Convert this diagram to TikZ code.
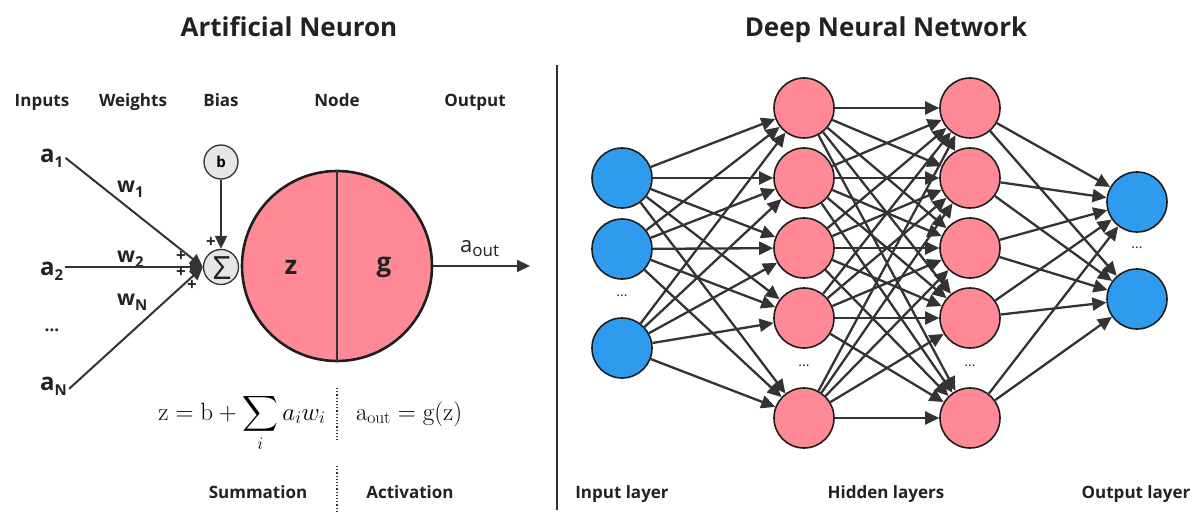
\RequirePackage{fix-cm}
\documentclass[tikz,border=0pt]{standalone}
\usepackage{amsmath}
\usepackage[no-math]{fontspec}
\setmainfont{Open Sans}
\usetikzlibrary{arrows.meta}

\definecolor{ink}{HTML}{333333}
\definecolor{rim}{HTML}{1E1E1E}
\definecolor{neuronpink}{HTML}{FF8A95}
\definecolor{unitblue}{HTML}{2E9BEF}
\definecolor{biasgray}{HTML}{E6E6E6}
\definecolor{txt}{HTML}{222222}

\newcommand{\fs}[1]{\fontsize{#1}{#1}\selectfont}
% bold symbol with a lowered bold subscript
\newcommand{\symsub}[4]{{\fs{#3}#1}\raisebox{-#4}{\fs{15}#2}}

\begin{document}
\begin{tikzpicture}[x=1pt,y=-1pt,
  ttl/.style={font=\fs{26}\bfseries, text=txt, anchor=base},
  hdr/.style={font=\fs{17}\bfseries, text=txt, anchor=base},
  sym/.style={font=\bfseries, text=txt, inner sep=2pt},
  plus/.style={font=\fs{17}\bfseries, text=txt, inner sep=0pt},
  link/.style={draw=ink, line width=2pt, -{Triangle[length=13pt,width=12pt]}},
  wire/.style={draw=ink, line width=2.3pt, -{Triangle[length=14pt,width=13pt]}},
  hid/.style={circle, draw=rim, line width=1.6pt, fill=neuronpink, minimum size=60pt, inner sep=0pt},
  io/.style={hid, fill=unitblue},
  small/.style={circle, draw=ink, line width=1.3pt, fill=biasgray, inner sep=0pt},
  dots/.style={dotted, draw=ink, line width=1.2pt}
]
\useasboundingbox (0,0) rectangle (1192,516);

% ---------- titles ----------
\node[ttl] (t1) at (289,37) {Artificial Neuron};
\node[ttl] (t2) at (886,37) {Deep Neural Network};
\draw[draw=ink, line width=1.5pt] (557,65) -- (557,510);

% ---------- artificial neuron ----------
\node[hdr] (hin) at (42,107) {Inputs};
\node[hdr] (hw)  at (133,107) {Weights};
\node[hdr] (hb)  at (221,107) {Bias};
\node[hdr] (hn)  at (337,107) {Node};
\node[hdr] (ho)  at (475,107) {Output};

\node[sym, anchor=base west] (a1) at (38,163) {\symsub{a}{1}{24pt}{5pt}};
\node[sym, anchor=base west] (a2) at (38,275) {\symsub{a}{2}{24pt}{5pt}};
\node[sym, font=\fs{17}\bfseries] (ad) at (52,330) {...};
\node[sym, anchor=base west] (aN) at (38,390) {\symsub{a}{N}{24pt}{5pt}};

\node[sym, anchor=base west] (w1) at (115,193) {\symsub{w}{1}{21pt}{5pt}};
\node[sym, anchor=base west] (w2) at (115,262) {\symsub{w}{2}{21pt}{5pt}};
\node[sym, anchor=base west] (wN) at (115,305) {\symsub{w}{N}{21pt}{5pt}};

\node[small, minimum size=35pt] (sig) at (221,267) {};
\node[text=txt, inner sep=0pt, font=\fs{32}] (sigma) at (222,268) {\symbol{"03A3}};
\node[small, minimum size=34pt, font=\fs{15}\bfseries] (b) at (221,162) {b};

\node[circle, draw=rim, line width=2.6pt, fill=neuronpink, minimum size=190pt, inner sep=0pt] (nd) at (337,266) {};
\draw[draw=ink, line width=1.6pt] (nd.north) -- (nd.south);
\node[sym, font=\fs{26}\bfseries] (z) at (291,267) {z};
\node[sym, font=\fs{26}\bfseries] (g) at (384,267) {g};

% input lines start just right of each input label
\coordinate (s1) at ([yshift=1pt]a1.east);
\coordinate (s2) at (a2.east |- sig.west);
\coordinate (sN) at ([yshift=-3pt]aN.east);
\draw[link] (s1) -- (sig.west);
\draw[link] (s2) -- (sig.west);
\draw[link] (sN) -- (sig.west);
\draw[link] (b) -- (sig);

\node[plus] (p1) at (181,256) {+};
\node[plus] (p2) at (181,272) {+};
\node[plus] (p3) at (192,285) {+};
\node[plus] (p4) at (211,242) {+};

\coordinate (out) at (530,266);
\draw[link] (nd.east) -- (out);
\node[anchor=base west, text=txt, inner sep=0pt] (aout) at (460,252) {{\fs{22}a}\raisebox{-4pt}{\fs{17}out}};

% formulas
\node[anchor=base, text=black, inner sep=0pt] (fz) at (242,420) {\fs{25}$\mathrm{z} = \mathrm{b} + \displaystyle\sum_i a_i w_i$};
\node[anchor=base, text=black, inner sep=0pt] (fa) at (409,420) {\fs{25}$\mathrm{a_{out}} = \mathrm{g(z)}$};
\draw[dots] (337,388) -- (337,440);
\draw[dots] (337,466) -- (337,513);
\node[hdr] (hs) at (258,498) {Summation};
\node[hdr] (ha) at (410,498) {Activation};

% ---------- deep network ----------
\foreach \i/\y in {1/178,2/249,3/348}
  \node[io] (in\i) at (622,\y) {};
\foreach \i/\y in {1/108,2/178,3/248,4/318,5/418} {
  \node[hid] (h\i) at (804,\y) {};
  \node[hid] (k\i) at (970,\y) {};
}
\foreach \i/\y in {1/202,2/299}
  \node[io] (o\i) at (1137,\y) {};

\foreach \i in {1,2,3}
  \foreach \j in {1,...,5}
    \draw[wire] (in\i) -- (h\j);
\foreach \i in {1,...,5}
  \foreach \j in {1,...,5}
    \draw[wire] (h\i) -- (k\j);
\foreach \i in {1,...,5}
  \foreach \j in {1,2}
    \draw[wire] (k\i) -- (o\j);

\node[text=txt, font=\fs{14}] (d1) at (622,296) {...};
\node[text=txt, font=\fs{14}] (d2) at (804,366) {...};
\node[text=txt, font=\fs{14}] (d3) at (970,366) {...};
\node[text=txt, font=\fs{14}] (d4) at (1137,248) {...};

\node[hdr] (li) at (622,498) {Input layer};
\node[hdr] (lh) at (886,498) {Hidden layers};
\node[hdr] (lo) at (1136,498) {Output layer};
\end{tikzpicture}
\end{document}
